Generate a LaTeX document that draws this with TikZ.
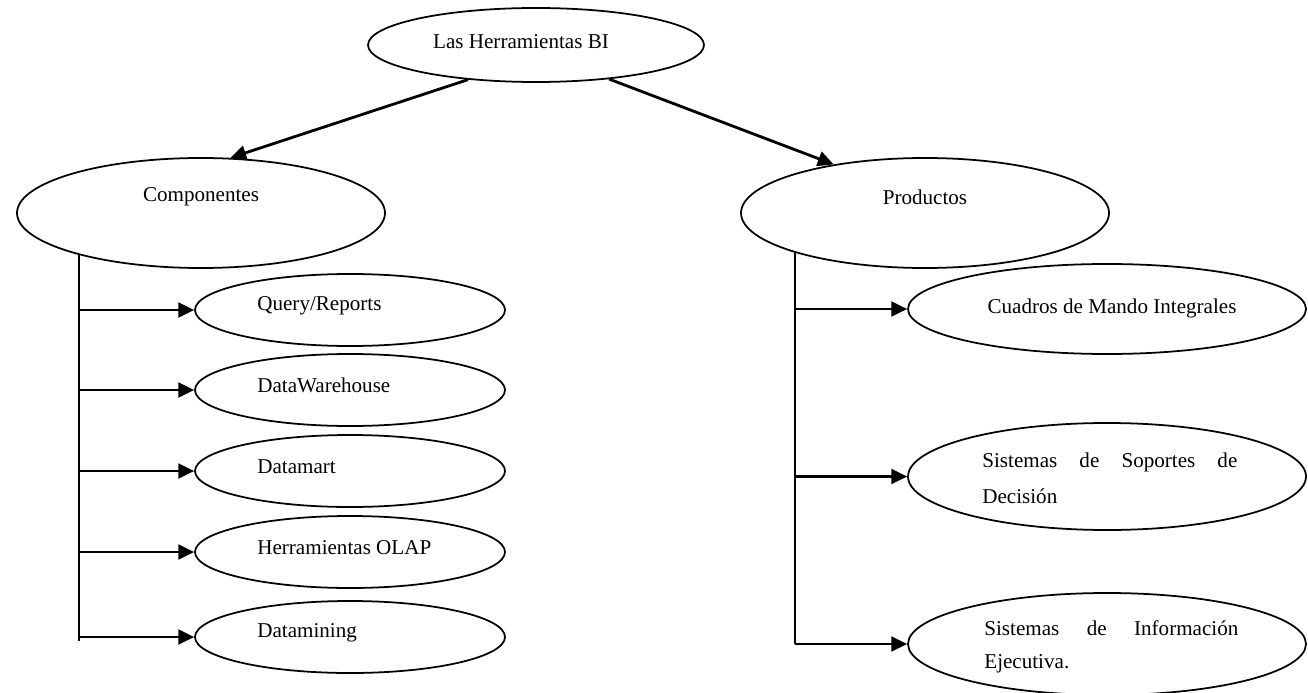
\documentclass[tikz,border=0pt]{standalone}
\usepackage{fontspec}
\setmainfont{Liberation Serif}
\usepackage{tikz}
\usetikzlibrary{arrows.meta, shapes.geometric, calc}

\tikzset{
  elipse/.style={draw, ellipse, line width=1pt, inner sep=0pt},
  texto/.style={inner sep=0pt},
  flecha/.style={-{Triangle[length=9pt,width=8.5pt]}, line width=1.4pt}
}

\begin{document}
\begin{tikzpicture}[font=\fontsize{12}{14.4}\selectfont]
  \useasboundingbox (0,0) rectangle (26.16,-13.86);

  % Raíz
  \node[elipse, minimum width=6.72cm, minimum height=1.48cm] (raiz) at (10.72,-0.90) {};
  \node[texto] (traiz) at (10.42,-0.84) {Las Herramientas BI};

  % Ramas principales
  \node[elipse, minimum width=7.36cm, minimum height=2.2cm] (comp) at (4.02,-4.26) {};
  \node[texto] (tcomp) at (4.02,-3.94) {Componentes};
  \node[elipse, minimum width=7.36cm, minimum height=2.2cm] (prod) at (18.5,-4.26) {};
  \node[texto] (tprod) at (18.5,-3.94) {Productos};

  \draw[flecha, line width=1.6pt] (raiz.207) -- (comp.62);
  \draw[flecha, line width=1.6pt] (raiz.335) -- (prod.152);

  % Componentes
  \foreach \n/\y/\t in {q/-6.20/{Query/Reports}, dw/-7.80/DataWarehouse, dm/-9.42/Datamart,
                        olap/-11.04/Herramientas OLAP, dmin/-12.74/Datamining}{
    \node[elipse, minimum width=6.2cm, minimum height=1.44cm] (\n) at (7.0,\y) {};
    \node[texto, anchor=west] (t\n) at (5.14,\y+0.09) {\t};
    \draw[flecha] (comp.199 |- \n) -- (\n.west);
  }
  \draw[line width=1pt] (comp.199) -- ($(comp.199 |- dmin.west)+(0,-0.08)$);

  % Productos
  \node[elipse, minimum width=7.96cm, minimum height=1.8cm] (cuad) at (22.14,-6.18) {};
  \node[texto] (tcuad) at (22.24,-6.16) {Cuadros de Mando Integrales};
  \node[elipse, minimum width=7.96cm, minimum height=2.14cm] (sop) at (22.14,-9.53) {};
  \node[texto, anchor=north west, align=left] (tsop) at (19.64,-9.05)
    {\makebox[5.1cm][s]{Sistemas de Soportes de}\\[0.21cm]Decisión};
  \node[elipse, minimum width=7.96cm, minimum height=2.04cm] (info) at (22.14,-12.88) {};
  \node[texto, anchor=north west, align=left] (tinfo) at (19.68,-12.41)
    {\makebox[5.08cm][s]{Sistemas de Información}\\[0.15cm]Ejecutiva.};

  \foreach \n in {cuad, sop, info}
    \draw[flecha] (prod.197 |- \n) -- (\n.west);
  \draw[line width=1pt] (prod.197) -- (prod.197 |- info.west);
\end{tikzpicture}
\end{document}
